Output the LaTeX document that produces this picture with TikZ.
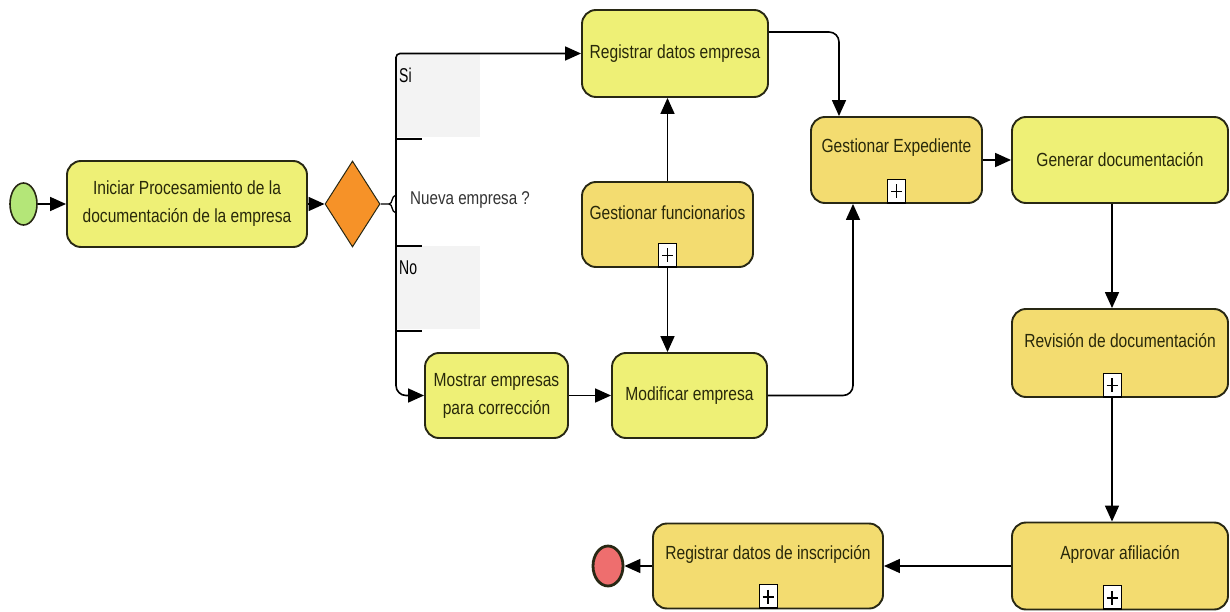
\documentclass[tikz,border=0pt]{standalone}
\usepackage{fontspec}
\setmainfont{Liberation Sans}[FakeStretch=0.82]
\newfontfamily\labfont{Liberation Sans}[FakeStretch=0.7]
\usetikzlibrary{arrows.meta,shapes.geometric}
\definecolor{ly}{RGB}{238,240,118}
\definecolor{gold}{RGB}{243,220,112}
\definecolor{startgreen}{RGB}{180,230,120}
\definecolor{gworange}{RGB}{246,146,40}
\definecolor{endred}{RGB}{238,110,110}
\definecolor{bord}{RGB}{40,40,20}
\definecolor{txt}{RGB}{40,40,10}
\definecolor{labgray}{RGB}{243,243,243}
\newcommand{\up}[1]{\raisebox{12pt}[\height][\depth]{#1}}
\begin{document}
\begin{tikzpicture}[x=1pt,y=-1pt,
  task/.style={draw=bord, line width=1.9pt, rounded corners=14pt, inner sep=2pt,
    align=center, text=txt, font=\fontsize{19}{28}\selectfont},
  flow/.style={draw=black, line width=1.6pt, -{Triangle[length=16pt,width=14pt]}},
  plusbox/.style={draw=black, fill=white, line width=1pt, minimum width=18pt,
    minimum height=24pt, inner sep=0pt, anchor=south,
    path picture={
      \draw[line width=1.1pt] ([yshift=-5pt]path picture bounding box.north) -- ([yshift=5pt]path picture bounding box.south);
      \draw[line width=1.1pt] ([xshift=3.5pt]path picture bounding box.west) -- ([xshift=-3.5pt]path picture bounding box.east);
      \draw[line width=3pt] (path picture bounding box.south west) -- (path picture bounding box.south east);}},
  lab/.style={anchor=west, inner sep=2pt, text=black, font=\labfont\fontsize{20}{20}\selectfont}
]
\useasboundingbox (0,0) rectangle (1230,612);

% gateway label areas
\fill[labgray] (397,54) rectangle (480,137);
\fill[labgray] (397,246) rectangle (480,329);

% nodes
\node[ellipse, draw=bord, line width=1.6pt, fill=startgreen, minimum width=27pt, minimum height=42pt, inner sep=0pt] (start) at (23.5,204) {};
\node[task, fill=ly, minimum width=240pt, minimum height=86pt] (ini) at (187,204) {Iniciar Procesamiento de la\\documentación de la empresa};
\node[diamond, draw=bord, line width=1pt, fill=gworange, aspect=0.64, minimum width=55pt, minimum height=86pt, inner sep=0pt] (gw) at (352.5,204) {};
\node[task, fill=ly, minimum width=186pt, minimum height=87pt] (rde) at (675,53.5) {Registrar datos empresa};
\node[task, fill=gold, minimum width=171pt, minimum height=85pt] (gf) at (667.5,224.5) {\up{Gestionar funcionarios}};
\node[plusbox] (gfp) at (gf.south) {};
\node[task, fill=ly, minimum width=143pt, minimum height=85pt] (mos) at (496.5,395.5) {Mostrar empresas\\para corrección};
\node[task, fill=ly, minimum width=155pt, minimum height=85pt] (mod) at (689.5,395.5) {Modificar empresa};
\node[task, fill=gold, minimum width=171pt, minimum height=86pt] (ge) at (896.5,160) {\up{Gestionar Expediente}};
\node[plusbox] (gep) at (ge.south) {};
\node[task, fill=ly, minimum width=216pt, minimum height=86pt] (gd) at (1120,160) {Generar documentación};
\node[task, fill=gold, minimum width=216pt, minimum height=88pt] (rev) at (1120,353) {\up{Revisión de documentación}};
\node[plusbox] (revp) at ([xshift=-8pt]rev.south) {};
\node[task, fill=gold, minimum width=216pt, minimum height=87pt] (apr) at (1120,566) {\up{Aprovar afiliación}};
\node[plusbox] (aprp) at ([xshift=-8pt]apr.south) {};
\node[task, fill=gold, minimum width=230pt, minimum height=85pt] (rdi) at (768,566) {\up{Registrar datos de inscripción}};
\node[plusbox] (rdip) at (rdi.south) {};
\node[ellipse, draw=bord, line width=2.8pt, fill=endred, minimum width=30pt, minimum height=40pt, inner sep=0pt] (end) at (608,566) {};

% annotation of the gateway
\coordinate (br) at (396,204);
\draw[line width=1.3pt] (gw.east) -- (389,204)
  (396,195) .. controls (391,196) and (393,204) .. (389,204)
  .. controls (393,204) and (391,212) .. (396,213);
\draw[line width=1.4pt] (396,139) -- (422,139) (396,246) -- (422,246) (396,331) -- (422,331);
\node[lab] (si) at (397,75) {Si};
\node[lab] (no) at (397,268) {No};
\node[anchor=west, inner sep=2pt, text=black!80, font=\fontsize{18.5}{20}\selectfont] (q) at (408,200) {Nueva empresa ?};

% flows
\draw[flow] (start) -- (ini);
\draw[flow] (ini) -- (gw);
\draw[flow, rounded corners=4pt] (br) -- (br |- rde.west) -- (rde.west);
\draw[flow, rounded corners=10pt] (br) -- (br |- mos.west) -- (mos.west);
\draw[flow] (gf.north) -- (gf.north |- rde.south);
\draw[flow] (gfp.south) -- (gfp.south |- mod.north);
\draw[flow] (mos) -- (mod);
\draw[flow, rounded corners=10pt] (mod.east) -| ([xshift=-43.5pt]ge.south);
\draw[flow, rounded corners=10pt] ([yshift=21.5pt]rde.east) -| ([xshift=-57.5pt]ge.north);
\draw[flow] (ge) -- (gd);
\draw[flow] ([xshift=-8pt]gd.south) -- ([xshift=-8pt]rev.north);
\draw[flow] (revp.south) -- ([xshift=-8pt]apr.north);
\draw[flow] (apr) -- (rdi);
\draw[flow] (rdi) -- (end);
\end{tikzpicture}
\end{document}
